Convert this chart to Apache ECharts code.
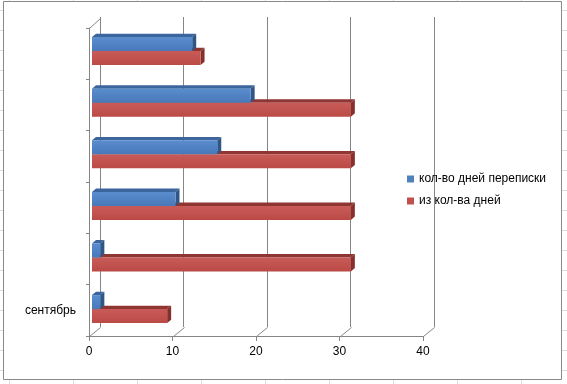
<!DOCTYPE html>
<html><head><meta charset="utf-8">
<script src="https://cdn.jsdelivr.net/npm/echarts@6/dist/echarts.min.js"></script>
<style>html,body{margin:0;padding:0;background:#fff}#c{width:567px;height:384px}</style>
</head><body><div id="c"></div>
<script>
// ---- data ----
const categories = ['сентябрь', '', '', '', '', ''];
const seriesNames = ['кол-во дней переписки', 'из кол-ва дней'];
const daysCorrespondence = [1, 1, 10, 15, 19, 12];
const daysTotal = [9, 31, 31, 31, 31, 13];
const xTicks = [0, 10, 20, 30, 40];

// ---- style constants ----
const FONT = 'Liberation Sans';
const AXIS_COLOR = '#868686';
const DEPTH = [11, -9];        // back wall offset
const BAR_DEPTH = [4, -3.4];   // bar thickness in depth
const BAR_H = 14;

const chart = echarts.init(document.getElementById('c'), null, {renderer: 'canvas'});

function barRenderer(upper, frontTop, frontBottom, topCol, sideCol) {
  return function (params, api) {
    const ci = api.value(0), v = api.value(1);
    const p0 = api.coord([0, ci]);
    const p1 = api.coord([v, ci]);
    const h = BAR_H;
    const y0 = upper ? p0[1] - h : p0[1];
    const x0 = p0[0], x1 = p1[0];
    const dx = BAR_DEPTH[0], dy = BAR_DEPTH[1];
    return {
      type: 'group',
      children: [
        {type: 'polygon', shape: {points: [[x0, y0], [x1, y0], [x1 + dx, y0 + dy], [x0 + dx, y0 + dy]]},
         style: {fill: topCol}},
        {type: 'polygon', shape: {points: [[x1, y0], [x1 + dx, y0 + dy], [x1 + dx, y0 + h + dy], [x1, y0 + h]]},
         style: {fill: sideCol}},
        {type: 'rect', shape: {x: x0, y: y0, width: x1 - x0, height: h},
         style: {fill: new echarts.graphic.LinearGradient(0, 0, 0, 1, [
           {offset: 0, color: frontTop}, {offset: 1, color: frontBottom}])}}
      ]
    };
  };
}

function frameRenderer(params, api) {
  const cs = params.coordSys;
  const x = Math.round(api.coord([api.value(0), 0])[0]) + 0.5;
  const bottom = Math.round(cs.y + cs.height) + 0.5;
  const top = Math.round(cs.y) + 0.5;
  const children = [{
    type: 'line', shape: {x1: x, y1: bottom, x2: x + DEPTH[0], y2: bottom + DEPTH[1]},
    style: {stroke: AXIS_COLOR, lineWidth: 1}
  }];
  if (api.value(0) === 0) {
    children.push({
      type: 'line', shape: {x1: x, y1: top, x2: x + DEPTH[0], y2: top + DEPTH[1] - 1},
      style: {stroke: AXIS_COLOR, lineWidth: 1}
    });
  }
  return {type: 'group', children};
}

// sheet grid lines behind chart
const sheetLines = [];
for (let y = 10.5; y < 384; y += 20) sheetLines.push({type: 'line', z: -5, silent: true,
  shape: {x1: 0, y1: y, x2: 567, y2: y}, style: {stroke: '#dadcdd', lineWidth: 1}});
for (let x = 9.5; x < 567; x += 64) sheetLines.push({type: 'line', z: -5, silent: true,
  shape: {x1: x, y1: 0, x2: x, y2: 384}, style: {stroke: '#dadcdd', lineWidth: 1}});

const option = {
  animation: false,
  textStyle: {fontFamily: FONT},
  graphic: sheetLines.concat([{
    type: 'rect', z: -4, silent: true,
    shape: {x: 3.5, y: 1.5, width: 558, height: 378},
    style: {fill: '#fff', stroke: '#898989', lineWidth: 1}
  }]),
  legend: {
    orient: 'vertical', left: 402, top: 168,
    data: seriesNames, itemWidth: 7, itemHeight: 7, itemGap: 10,
    icon: 'rect',
    textStyle: {fontFamily: FONT, fontSize: 12, color: '#000'}
  },
  grid: [
    {left: 89, top: 28, width: 334, height: 308},       // front
    {left: 100, top: 17, width: 334, height: 310},      // back wall
    {left: 92, top: 25.3, width: 334, height: 309.6}    // bars
  ],
  xAxis: [
    {gridIndex: 0, type: 'value', min: 0, max: 40, interval: 10,
     axisLine: {show: true, lineStyle: {color: AXIS_COLOR}},
     axisTick: {show: true, length: 5, lineStyle: {color: AXIS_COLOR}},
     axisLabel: {color: '#000', fontSize: 12, margin: 10, fontFamily: FONT},
     splitLine: {show: false}},
    {gridIndex: 1, type: 'value', min: 0, max: 40, interval: 10,
     axisLine: {show: false}, axisTick: {show: false}, axisLabel: {show: false},
     splitLine: {show: true, lineStyle: {color: AXIS_COLOR, width: 1}}},
    {gridIndex: 2, type: 'value', min: 0, max: 40, interval: 10, show: false}
  ],
  yAxis: [
    {gridIndex: 0, type: 'category', data: categories, boundaryGap: true,
     axisLine: {show: true, lineStyle: {color: AXIS_COLOR}},
     axisTick: {show: true, length: 3, lineStyle: {color: AXIS_COLOR}},
     axisLabel: {color: '#000', fontSize: 12, margin: 13, fontFamily: FONT, interval: 0},
     splitLine: {show: false}},
    {gridIndex: 1, type: 'category', data: categories, show: false},
    {gridIndex: 2, type: 'category', data: categories, show: false}
  ],
  series: [
    {type: 'custom', name: 'frame', xAxisIndex: 0, yAxisIndex: 0, silent: true,
     data: xTicks.map(v => [v]), encode: {x: 0}, renderItem: frameRenderer},
    {type: 'custom', name: seriesNames[1], xAxisIndex: 2, yAxisIndex: 2,
     itemStyle: {color: '#C0504D'},
     data: daysTotal.map((v, i) => [i, v]), encode: {y: 0, x: 1},
     renderItem: barRenderer(false, '#c85b58', '#bb4a46', '#8f3633', '#86302d')},
    {type: 'custom', name: seriesNames[0], xAxisIndex: 2, yAxisIndex: 2,
     itemStyle: {color: '#4F81BD'},
     data: daysCorrespondence.map((v, i) => [i, v]), encode: {y: 0, x: 1},
     renderItem: barRenderer(true, '#5a8dcf', '#4878b8', '#3b659c', '#2f5686')}
  ]
};
chart.setOption(option);
</script></body></html>
